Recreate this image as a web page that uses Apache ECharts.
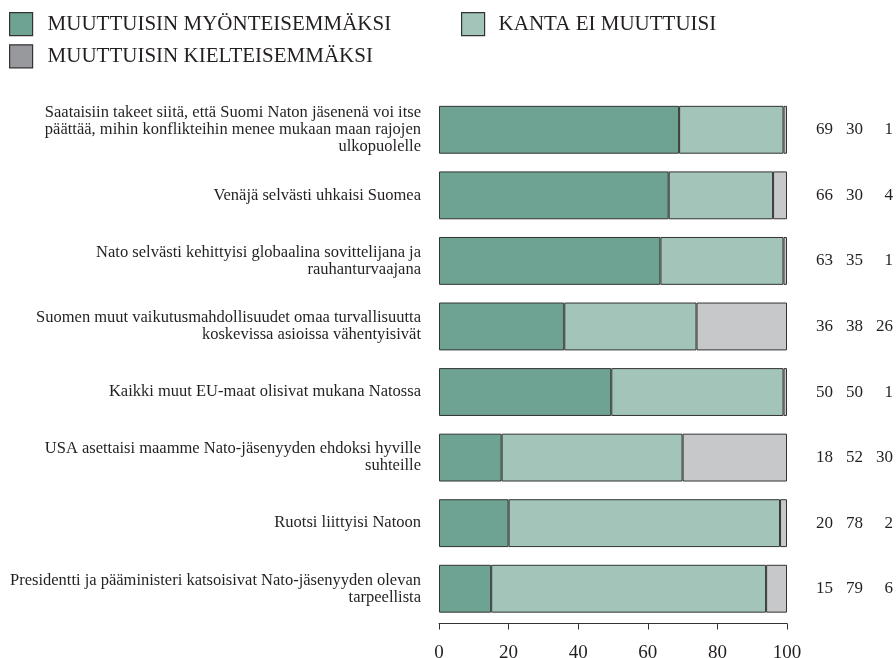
<!DOCTYPE html>
<html><head><meta charset="utf-8">
<script src="https://cdn.jsdelivr.net/npm/echarts@6/dist/echarts.min.js"></script>
<style>html,body{margin:0;padding:0;background:#fff}#c{width:896px;height:658px}</style>
</head><body><div id="c"></div>
<script>
const categories = [
  "Saataisiin takeet siitä, että Suomi Naton jäsenenä voi itse\npäättää, mihin konflikteihin menee mukaan maan rajojen\nulkopuolelle",
  "Venäjä selvästi uhkaisi Suomea",
  "Nato selvästi kehittyisi globaalina sovittelijana ja\nrauhanturvaajana",
  "Suomen muut vaikutusmahdollisuudet omaa turvallisuutta\nkoskevissa asioissa vähentyisivät",
  "Kaikki muut EU-maat olisivat mukana Natossa",
  "USA asettaisi maamme Nato-jäsenyyden ehdoksi hyville\nsuhteille",
  "Ruotsi liittyisi Natoon",
  "Presidentti ja pääministeri katsoisivat Nato-jäsenyyden olevan\ntarpeellista"
];
const seriesNames = ["MUUTTUISIN MYÖNTEISEMMÄKSI", "KANTA EI MUUTTUISI", "MUUTTUISIN KIELTEISEMMÄKSI"];
const positive = [69, 66, 63, 36, 50, 18, 20, 15];
const unchanged = [30, 30, 35, 38, 50, 52, 78, 79];
const negative = [1, 4, 1, 26, 1, 30, 2, 6];
const xTicks = [0, 20, 40, 60, 80, 100];

const totals = positive.map((v, i) => v + unchanged[i] + negative[i]);
const share = arr => arr.map((v, i) => v / totals[i] * 100);

const colors = ["#6ea394", "#a3c4b9", "#c7c8ca"];
const legendColors = ["#6ea394", "#a3c4b9", "#98999d"];
const font = "'Liberation Serif', 'DejaVu Serif', serif";
const txt = "#231f20";

const chart = echarts.init(document.getElementById('c'));
const mk = (name, data, color) => ({
  name, type: 'bar', stack: 'all', data: share(data),
  barCategoryGap: '27%',
  itemStyle: { color, borderColor: '#333333', borderWidth: 1 },
  emphasis: { disabled: true }
});
const legItem = i => ({ name: seriesNames[i], icon: 'rect', itemStyle: { color: legendColors[i], borderColor: '#333333', borderWidth: 1.2 } });
chart.setOption({
  animation: false,
  textStyle: { fontFamily: font },
  legend: [
    { left: 9, top: 12, padding: 0, orient: 'vertical', itemWidth: 23, itemHeight: 23, itemGap: 8,
      data: [legItem(0), legItem(2)],
      textStyle: { fontFamily: font, fontSize: 21, color: txt, padding: [0, 0, 0, 10] }, selectedMode: false },
    { left: 461, top: 12, padding: 0, orient: 'vertical', itemWidth: 23, itemHeight: 23,
      data: [legItem(1)],
      textStyle: { fontFamily: font, fontSize: 21, color: txt, padding: [0, 0, 0, 9] }, selectedMode: false }
  ],
  grid: { left: 439, right: 109, top: 97, height: 524.5, containLabel: false, outerBoundsMode: 'none' },
  xAxis: {
    type: 'value', min: 0, max: 100, interval: 20, offset: 2,
    axisLine: { show: true, lineStyle: { color: '#333333', width: 1 } },
    axisTick: { show: true, length: 6, inside: false, lineStyle: { color: '#333333' } },
    splitLine: { show: false },
    axisLabel: { margin: 20, fontSize: 19, color: txt, fontFamily: font,
      formatter: v => xTicks.includes(v) ? String(v) : '' }
  },
  yAxis: [
    { type: 'category', data: categories, inverse: true,
      axisLine: { show: false }, axisTick: { show: false },
      axisLabel: { margin: 18, fontSize: 16.5, lineHeight: 17, color: txt, fontFamily: font, align: 'right' } },
    { type: 'category', data: categories, inverse: true, position: 'right',
      axisLine: { show: false }, axisTick: { show: false },
      axisLabel: { margin: 14, color: txt, fontFamily: font, align: 'left',
        formatter: (v, i) => `{a|${positive[i]}}{b|${unchanged[i]}}{c|${negative[i]}}`,
        rich: {
          a: { width: 32, align: 'right', fontSize: 17, fontFamily: font, color: txt },
          b: { width: 30, align: 'right', fontSize: 17, fontFamily: font, color: txt },
          c: { width: 30, align: 'right', fontSize: 17, fontFamily: font, color: txt }
        } } }
  ],
  series: [
    mk(seriesNames[0], positive, colors[0]),
    mk(seriesNames[1], unchanged, colors[1]),
    mk(seriesNames[2], negative, colors[2])
  ]
});
</script></body></html>
